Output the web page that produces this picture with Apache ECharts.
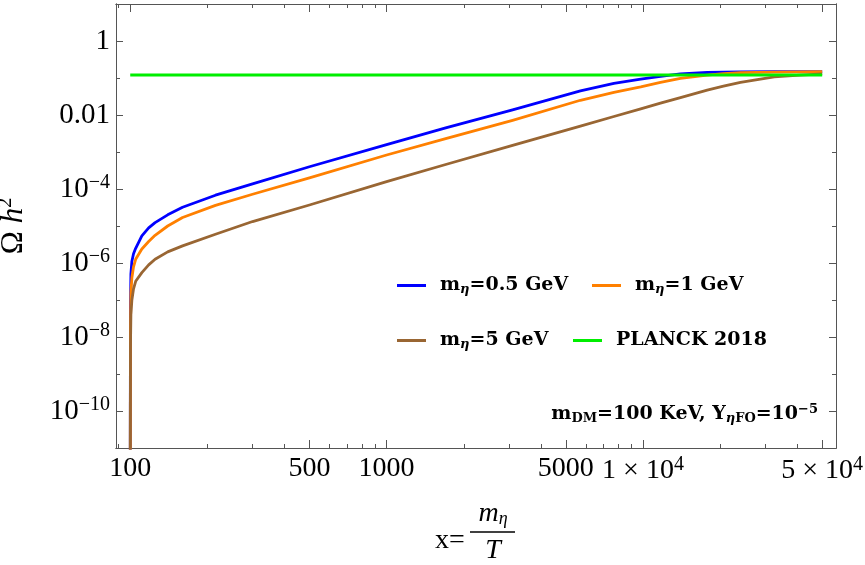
<!DOCTYPE html>
<html>
<head>
<meta charset="utf-8">
<script src="https://cdn.jsdelivr.net/npm/echarts@6/dist/echarts.min.js"></script>
<style>
html, body { margin: 0; padding: 0; background: #fff; }
#main { width: 865px; height: 565px; }
</style>
</head>
<body>
<div id="main"></div>
<script>
// x = m_eta / T
var xs = [100, 100.2, 100.6, 101.5, 103, 105, 111, 118, 125, 140, 160, 215, 300, 500,
          1000, 1700, 3100, 5700, 7700, 9800, 11700, 14000, 17800, 20600, 24000, 32500, 41000, 50000];
// Omega h^2
var blue = [1e-12, 6.3e-8, 5.0e-7, 1.12e-6, 1.78e-6, 2.5e-6, 5.4e-6, 8.9e-6, 1.23e-5, 2.0e-5, 3.2e-5, 6.8e-5, 1.38e-4, 4.0e-4,
            1.58e-3, 4.5e-3, 1.38e-2, 4.5e-2, 7.2e-2, 9.3e-2, 0.110, 0.129, 0.141, 0.145, 0.146, 0.148, 0.148, 0.148];
var orange = [1e-12, 1.6e-8, 1.6e-7, 4.0e-7, 7.9e-7, 1.26e-6, 2.4e-6, 3.8e-6, 5.6e-6, 1.0e-5, 1.7e-5, 3.6e-5, 7.2e-5, 2.0e-4,
              8.3e-4, 2.3e-3, 7.2e-3, 2.5e-2, 4.1e-2, 5.75e-2, 7.6e-2, 9.8e-2, 0.120, 0.132, 0.140, 0.145, 0.147, 0.148];
var brown = [1e-12, 5.0e-9, 4.0e-8, 1.0e-7, 2.0e-7, 3.2e-7, 5.5e-7, 8.9e-7, 1.26e-6, 2.0e-6, 2.9e-6, 6.0e-6, 1.32e-5, 3.7e-5,
             1.58e-4, 4.6e-4, 1.51e-3, 5.0e-3, 9.1e-3, 1.46e-2, 2.1e-2, 2.95e-2, 4.7e-2, 6.0e-2, 7.6e-2, 0.107, 0.120, 0.129];
var planckX = [100, 50000];
var planckY = [0.12, 0.12];

var names = ['mη=0.5 GeV', 'mη=1 GeV', 'mη=5 GeV', 'PLANCK 2018'];
var legendText = ['{m|m}{s|η}{b|=0.5 GeV}', '{m|m}{s|η}{b|=1 GeV}', '{m|m}{s|η}{b|=5 GeV}', '{m|PLANCK 2018}'];
var colors = ['#0000ff', '#ff8000', '#996633', '#00ee00'];

var xMajor = [100, 500, 1000, 5000, 10000, 50000];
var xMajorLabels = ['100', '500', '1000', '5000', '1 × 10{sup|4}', '5 × 10{sup|4}'];
var xMinor = [90, 200, 300, 400, 600, 700, 800, 900, 2000, 3000, 4000, 6000, 7000, 8000, 9000, 20000, 30000, 40000];
var yMajor = [1e-10, 1e-8, 1e-6, 1e-4, 0.01, 1];
var yMajorLabels = ['10{sup|−10}', '10{sup|−8}', '10{sup|−6}', '10{sup|−4}', '0.01', '1'];
var yMinor = [1e-11, 1e-9, 1e-7, 1e-5, 1e-3, 0.1, 10];

var myChart = echarts.init(document.getElementById('main'));

var SERIF = 'Liberation Serif';
var BOLD = 'DejaVu Serif';
var frameColor = '#555';

function pairs(a, b) {
    return a.map(function (x, i) { return [x, b[i]]; });
}
function pick(vals, labels) {
    return function (v) {
        for (var i = 0; i < vals.length; i++) {
            if (Math.abs(Math.log10(v) - Math.log10(vals[i])) < 1e-6) return labels[i];
        }
        return '';
    };
}
var tickRich = {
    sup: { fontFamily: SERIF, fontSize: 20, color: '#000', padding: [0, 0, 12, 0] }
};

function xAx(pos, vals, len, labels) {
    return {
        type: 'log', logBase: 10, position: pos, min: 88, max: 56600,
        axisLine: { show: true, onZero: false, lineStyle: { color: frameColor, width: 1 } },
        axisTick: { show: true, inside: true, length: len, customValues: vals, lineStyle: { color: frameColor } },
        axisLabel: labels ? {
            show: true, customValues: vals, formatter: pick(xMajor, xMajorLabels), margin: 7,
            fontFamily: SERIF, fontSize: 28, color: '#000', rich: tickRich, hideOverlap: false
        } : { show: false },
        splitLine: { show: false },
        minorTick: { show: false }
    };
}
function yAx(pos, vals, len, labels) {
    var ax = {
        type: 'log', logBase: 10, position: pos, min: 1e-11, max: 10,
        axisLine: { show: true, onZero: false, lineStyle: { color: frameColor, width: 1 } },
        axisTick: { show: true, inside: true, length: len, customValues: vals, lineStyle: { color: frameColor } },
        axisLabel: labels ? {
            show: true, customValues: vals, formatter: pick(yMajor, yMajorLabels), margin: 6,
            fontFamily: SERIF, fontSize: 29, color: '#000', rich: tickRich, hideOverlap: false
        } : { show: false },
        splitLine: { show: false },
        minorTick: { show: false }
    };
    if (labels) {
        ax.name = 'Ω {i|h}{sup|2}';
        ax.nameLocation = 'middle';
        ax.nameRotate = 90;
        ax.nameGap = 84;
        ax.nameTextStyle = {
            fontFamily: SERIF, fontSize: 31, color: '#000',
            rich: {
                i: { fontFamily: SERIF, fontStyle: 'italic', fontSize: 31, color: '#000' },
                sup: { fontFamily: SERIF, fontSize: 20, color: '#000', padding: [0, 0, 16, 0] }
            }
        };
    }
    return ax;
}

var legendRich = {
    m: { fontFamily: BOLD, fontWeight: 'bold', fontSize: 19, color: '#000', padding: [0, 0, 0, 9] },
    s: { fontFamily: BOLD, fontStyle: 'italic', fontWeight: 'bold', fontSize: 13, color: '#000', padding: [9, 0, 0, 0] },
    b: { fontFamily: BOLD, fontWeight: 'bold', fontSize: 19, color: '#000' }
};
var legendPos = [[397, 276], [592, 276], [397, 331], [573, 331]];
var legends = names.map(function (n, i) {
    return {
        data: [n], left: legendPos[i][0], top: legendPos[i][1],
        icon: 'rect', itemWidth: 29, itemHeight: 3, padding: 0,
        formatter: function () { return legendText[i]; },
        textStyle: { rich: legendRich }
    };
});

var lineData = [blue, orange, brown];
var series = lineData.map(function (d, i) {
    return {
        name: names[i], type: 'line', data: pairs(xs, d),
        xAxisIndex: 0, yAxisIndex: 0,
        showSymbol: false, symbol: 'none', smooth: false,
        lineStyle: { color: colors[i], width: 2.8, join: 'round' },
        itemStyle: { color: colors[i] }
    };
});
series.push({
    name: names[3], type: 'line', data: pairs(planckX, planckY),
    xAxisIndex: 0, yAxisIndex: 0, showSymbol: false, symbol: 'none',
    lineStyle: { color: colors[3], width: 3 },
    itemStyle: { color: colors[3] }
});

var option = {
    animation: false,
    backgroundColor: '#fff',
    grid: { left: 116, right: 29, top: 4, bottom: 117, containLabel: false, outerBoundsMode: 'none' },
    title: {
        text: '{b|m}{sub|DM}{b|=100 KeV, Y}{si|η}{sub|FO}{b|=10}{sup|−5}',
        right: 47, top: 403, padding: 0,
        textStyle: {
            rich: {
                b: { fontFamily: BOLD, fontWeight: 'bold', fontSize: 19, color: '#000' },
                sub: { fontFamily: BOLD, fontWeight: 'bold', fontSize: 13, color: '#000', padding: [9, 0, 0, 0] },
                si: { fontFamily: BOLD, fontStyle: 'italic', fontWeight: 'bold', fontSize: 13, color: '#000', padding: [9, 0, 0, 0] },
                sup: { fontFamily: BOLD, fontWeight: 'bold', fontSize: 13, color: '#000', padding: [0, 0, 10, 0] }
            }
        }
    },
    legend: legends,
    xAxis: [
        xAx('bottom', xMajor, 8, true),
        xAx('bottom', xMinor, 4, false),
        xAx('top', xMajor, 8, false),
        xAx('top', xMinor, 4, false)
    ],
    yAxis: [
        yAx('left', yMajor, 7, true),
        yAx('left', yMinor, 4, false),
        yAx('right', yMajor, 7, false),
        yAx('right', yMinor, 4, false)
    ],
    graphic: [
        { type: 'text', x: 435, y: 541, style: { text: 'x=', fontFamily: SERIF, fontSize: 28, fill: '#000', align: 'left', verticalAlign: 'middle' } },
        { type: 'text', x: 493, y: 514, style: {
            text: '{i|m}{s|η}', align: 'center', verticalAlign: 'middle', fill: '#000',
            rich: {
                i: { fontFamily: SERIF, fontStyle: 'italic', fontSize: 28, fill: '#000' },
                s: { fontFamily: SERIF, fontStyle: 'italic', fontSize: 18, fill: '#000', padding: [10, 0, 0, 0] }
            }
        } },
        { type: 'line', shape: { x1: 470, y1: 532, x2: 515, y2: 532 }, style: { stroke: '#000', lineWidth: 1.4 } },
        { type: 'text', x: 493, y: 551, style: { text: 'T', fontFamily: SERIF, fontStyle: 'italic', fontSize: 28, fill: '#000', align: 'center', verticalAlign: 'middle' } }
    ],
    series: series
};
myChart.setOption(option);
</script>
</body>
</html>
